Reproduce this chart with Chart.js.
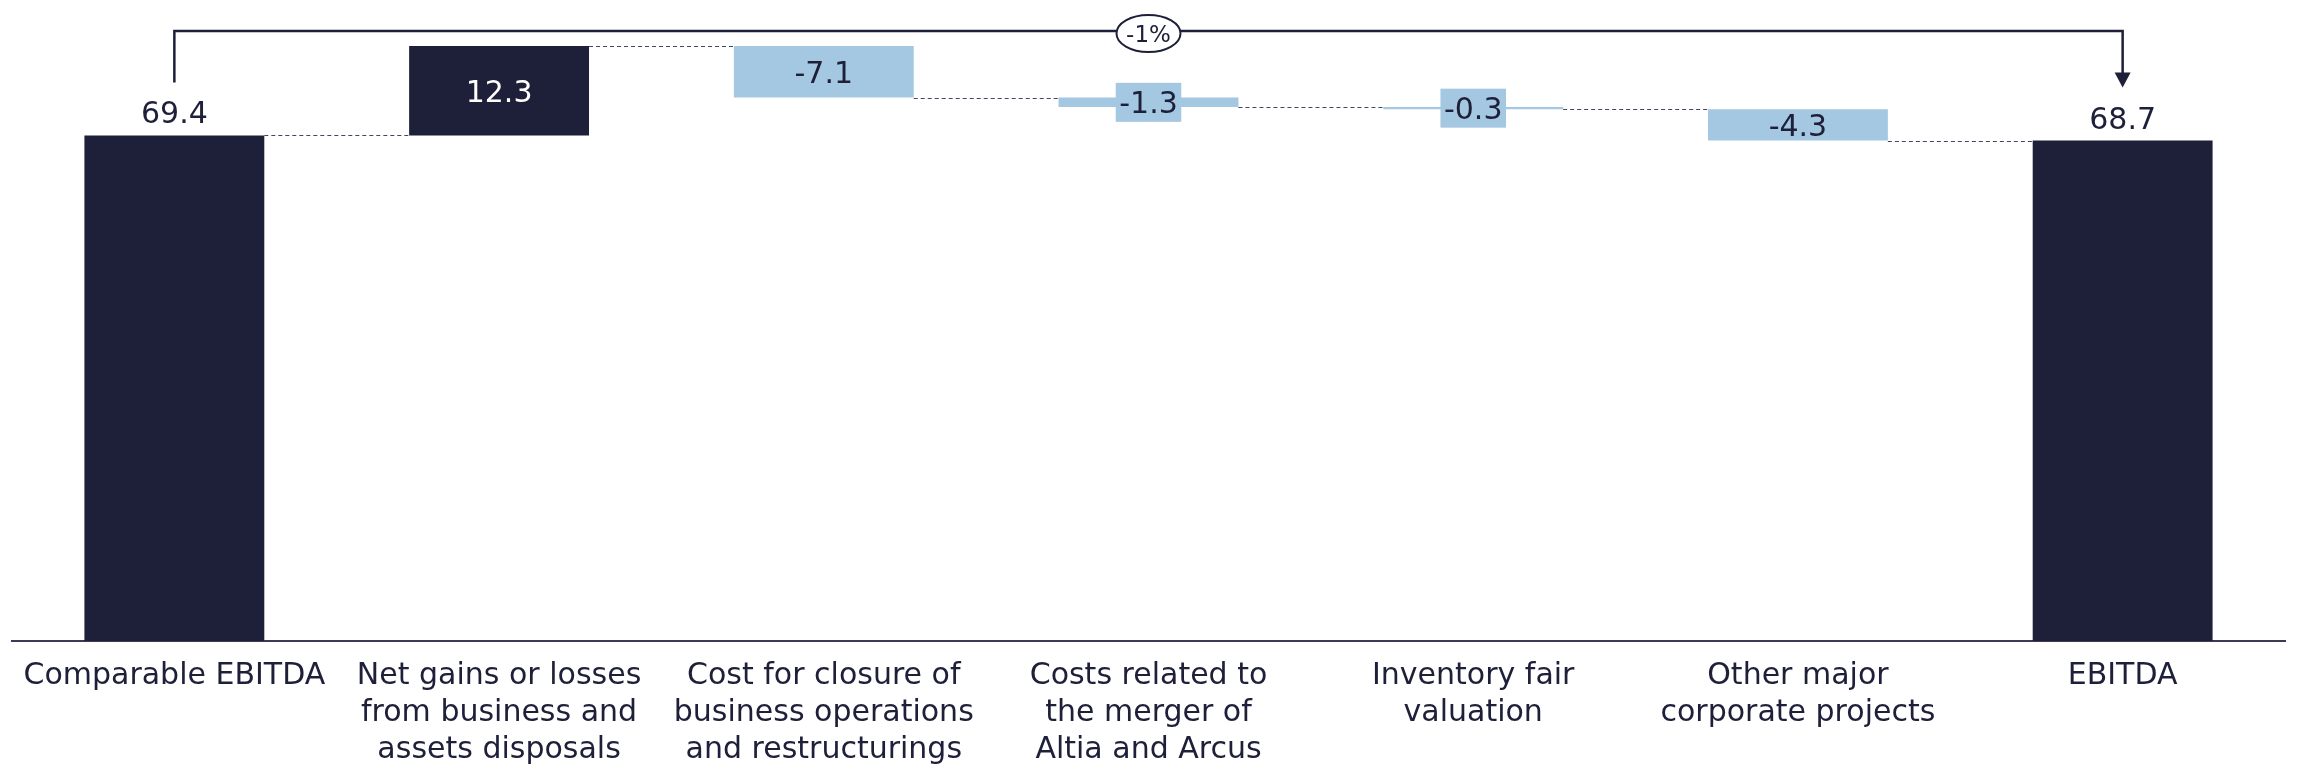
<!DOCTYPE html>
<html>
<head>
<meta charset="utf-8">
<title>EBITDA bridge</title>
<script src="https://cdn.jsdelivr.net/npm/chart.js@4.4.1/dist/chart.umd.min.js"></script>
<style>
  html, body { margin: 0; padding: 0; background: #ffffff; }
  #wrap { width: 2303px; height: 768px; }
</style>
</head>
<body>
<div id="wrap"><canvas id="c" width="2303" height="768"></canvas></div>
<script>
// Bridge from comparable EBITDA to reported EBITDA
const categories = [
  ['Comparable EBITDA'],
  ['Net gains or losses', 'from business and', 'assets disposals'],
  ['Cost for closure of', 'business operations', 'and restructurings'],
  ['Costs related to', 'the merger of', 'Altia and Arcus'],
  ['Inventory fair', 'valuation'],
  ['Other major', 'corporate projects'],
  ['EBITDA']
];
const values = [69.4, 12.3, -7.1, -1.3, -0.3, -4.3, 68.7];
const isTotal = [true, false, false, false, false, false, true];
const valueLabels = ['69.4', '12.3', '-7.1', '-1.3', '-0.3', '-4.3', '68.7'];

const NAVY = '#1e1f39';
const LIGHT = '#a4c8e1';
const FONT = 'DejaVu Sans';

// floating [start, end] ranges and running totals
const ranges = [];
const levels = [];
let running = 0;
values.forEach((v, i) => {
  if (isTotal[i]) {
    ranges.push([0, v]);
    running = v;
  } else {
    ranges.push([running, +(running + v).toFixed(2)]);
    running = +(running + v).toFixed(2);
  }
  levels.push(running);
});
const colors = values.map((v, i) => (isTotal[i] || v >= 0) ? NAVY : LIGHT);

const waterfallDecor = {
  id: 'waterfallDecor',
  afterDatasetsDraw(chart) {
    const ctx = chart.ctx;
    const meta = chart.getDatasetMeta(0);
    const ys = chart.scales.y;
    const bars = meta.data;

    // dashed connectors between consecutive bars
    ctx.save();
    ctx.strokeStyle = '#44475e';
    ctx.lineWidth = 1;
    ctx.setLineDash([4, 3]);
    for (let i = 0; i < bars.length - 1; i++) {
      const y = Math.round(ys.getPixelForValue(levels[i])) + 0.5;
      const a = bars[i], b = bars[i + 1];
      ctx.beginPath();
      ctx.moveTo(a.x + a.width / 2, y);
      ctx.lineTo(b.x - b.width / 2, y);
      ctx.stroke();
    }
    ctx.restore();

    // value labels
    const fs = 30;
    ctx.save();
    ctx.font = fs + 'px "' + FONT + '"';
    ctx.textAlign = 'center';
    ctx.textBaseline = 'alphabetic';
    bars.forEach((bar, i) => {
      const top = Math.min(bar.y, bar.base);
      const bottom = Math.max(bar.y, bar.base);
      const txt = valueLabels[i];
      if (isTotal[i]) {
        ctx.fillStyle = NAVY;
        ctx.fillText(txt, bar.x, top - 12);
      } else {
        const cy = (top + bottom) / 2;
        const h = bottom - top;
        if (h < 27) {
          const w = ctx.measureText(txt).width + 7;
          ctx.fillStyle = colors[i];
          ctx.fillRect(bar.x - w / 2, cy - 19.5, w, 39);
        }
        ctx.fillStyle = colors[i] === NAVY ? '#ffffff' : NAVY;
        ctx.fillText(txt, bar.x, cy + fs * 0.365);
      }
    });
    ctx.restore();

    // overall change bracket from first to last total
    const first = bars[0], last = bars[bars.length - 1];
    const maxLevel = Math.max(...levels);
    const by = Math.round(ys.getPixelForValue(maxLevel)) - 15;
    const firstTop = ys.getPixelForValue(values[0]);
    const lastTop = ys.getPixelForValue(values[values.length - 1]);
    const leftEnd = firstTop - 53;
    const tipY = lastTop - 53;
    ctx.save();
    ctx.strokeStyle = NAVY;
    ctx.fillStyle = NAVY;
    ctx.lineWidth = 2.5;
    ctx.beginPath();
    ctx.moveTo(first.x, leftEnd);
    ctx.lineTo(first.x, by);
    ctx.lineTo(last.x, by);
    ctx.lineTo(last.x, tipY - 14);
    ctx.stroke();
    ctx.beginPath();
    ctx.moveTo(last.x - 8, tipY - 15);
    ctx.lineTo(last.x + 8, tipY - 15);
    ctx.lineTo(last.x, tipY);
    ctx.closePath();
    ctx.fill();

    // percentage bubble
    const pct = Math.round((values[values.length - 1] - values[0]) / values[0] * 100);
    const cx = (first.x + last.x) / 2;
    const cy = by + 2.5;
    ctx.beginPath();
    ctx.ellipse(cx, cy, 32, 18.5, 0, 0, Math.PI * 2);
    ctx.fillStyle = '#ffffff';
    ctx.fill();
    ctx.lineWidth = 2;
    ctx.stroke();
    ctx.fillStyle = NAVY;
    ctx.font = '23px "' + FONT + '"';
    ctx.textAlign = 'center';
    ctx.textBaseline = 'alphabetic';
    ctx.fillText(pct + '%', cx, cy + 8);
    ctx.restore();
  }
};

new Chart(document.getElementById('c'), {
  type: 'bar',
  data: {
    labels: categories,
    datasets: [{
      data: ranges,
      backgroundColor: colors,
      borderWidth: 0,
      categoryPercentage: 1,
      barPercentage: 0.554
    }]
  },
  options: {
    responsive: false,
    animation: false,
    layout: { padding: { left: 12, right: 18, top: 0, bottom: 0 } },
    plugins: {
      legend: { display: false },
      tooltip: { enabled: false },
      title: { display: false }
    },
    scales: {
      x: {
        grid: { display: false, drawTicks: false },
        border: { display: true, color: '#3b3c52', width: 2 },
        ticks: {
          autoSkip: false,
          maxRotation: 0,
          minRotation: 0,
          padding: 17,
          color: NAVY,
          font: { family: FONT, size: 30, lineHeight: 37 / 30 }
        },
        afterFit(scale) { scale.height = 127; }
      },
      y: {
        display: false,
        min: 0,
        max: 88
      }
    }
  },
  plugins: [waterfallDecor]
});
</script>
</body>
</html>
